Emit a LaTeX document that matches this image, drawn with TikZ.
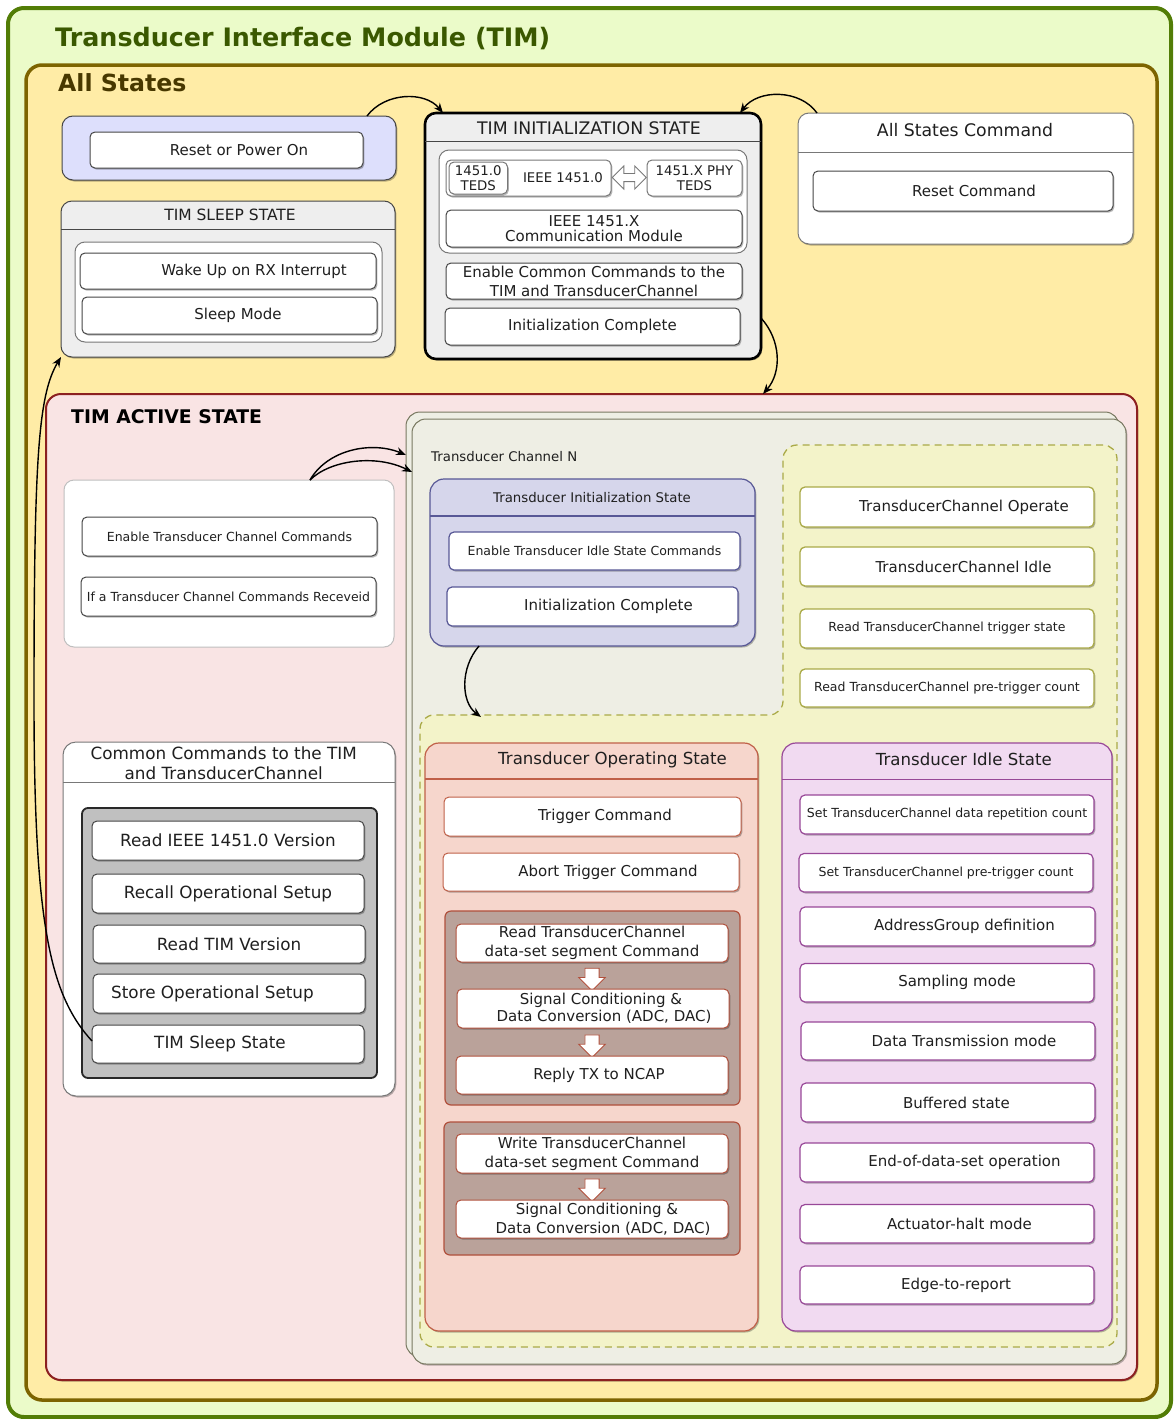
\documentclass[tikz,border=0pt]{standalone}
\usepackage{fontspec}
\setmainfont{DejaVu Sans}
\usetikzlibrary{arrows.meta,shapes.arrows,shadows}

\definecolor{timfill}{RGB}{235,251,201}
\definecolor{timline}{RGB}{82,125,6}
\definecolor{timtext}{RGB}{58,88,0}
\definecolor{allfill}{RGB}{255,236,166}
\definecolor{allline}{RGB}{125,100,0}
\definecolor{alltext}{RGB}{72,56,0}
\definecolor{resetfill}{RGB}{221,223,252}
\definecolor{statefill}{RGB}{238,238,238}
\definecolor{boxline}{RGB}{70,70,70}
\definecolor{softline}{RGB}{120,120,120}
\definecolor{actfill}{RGB}{249,228,228}
\definecolor{actline}{RGB}{140,32,32}
\definecolor{chfill}{RGB}{238,238,228}
\definecolor{chline}{RGB}{120,120,96}
\definecolor{dashfill}{RGB}{243,243,201}
\definecolor{dashline}{RGB}{170,170,72}
\definecolor{tinitfill}{RGB}{214,214,235}
\definecolor{tinitline}{RGB}{88,88,150}
\definecolor{opfill}{RGB}{246,214,204}
\definecolor{opline}{RGB}{192,96,72}
\definecolor{opgrp}{RGB}{186,162,154}
\definecolor{opgrpline}{RGB}{176,80,60}
\definecolor{idlefill}{RGB}{241,218,241}
\definecolor{idleline}{RGB}{152,72,152}
\definecolor{grpfill}{RGB}{192,192,192}
\definecolor{grpline}{RGB}{40,40,40}

\tikzset{
  % a rectangle node spanning the corners (x1,y1) (x2,y2)
  spanbox/.style args={(#1,#2) (#3,#4)}{
    at={({(#1+#3)/2},{(#2+#4)/2})},
    minimum width={(#3)-(#1)}, minimum height={(#4)-(#2)},
    inner sep=0pt, outer sep=0pt},
  dshadow/.style={drop shadow={shadow xshift=1.3pt, shadow yshift=-1.5pt, opacity=.28, fill=black}},
  fA/.style={font=\fontsize{15}{17.5}\selectfont},
  fS/.style={font=\fontsize{12.5}{15}\selectfont},
  fM/.style={font=\fontsize{13.3}{15.5}\selectfont},
  fH/.style={font=\fontsize{17.3}{20}\selectfont},
  fC/.style={font=\fontsize{16.8}{20}\selectfont},
  fO/.style={font=\fontsize{16.6}{20}\selectfont},
  heading/.style={anchor=base west, inner sep=0pt},
  container/.style={rounded corners=11pt, line width=1pt, dshadow},
  ibox/.style={draw=boxline, fill=white, rounded corners=5pt, line width=1pt, fA, align=center, dshadow},
  tibox/.style={ibox, draw=tinitline, line width=1.2pt},
  lbox/.style={ibox, draw=dashline, line width=1.3pt},
  obox/.style={ibox, draw=opline, line width=1pt},
  gbox/.style={ibox, draw=opgrpline, line width=1pt},
  vbox/.style={ibox, draw=idleline, line width=1.2pt},
  flow/.style={single arrow, shape border rotate=270, draw=opgrpline, fill=white,
    line width=0.9pt, minimum height=22.5pt, minimum width=25.5pt, inner sep=6.6pt,
    single arrow head extend=6.2pt},
  arr/.style={line width=1.4pt, -{Stealth[length=10pt,width=8pt]}},
}

\begin{document}
\begin{tikzpicture}[x=1pt,y=-1pt, every node/.append style={text=black!88}]
\useasboundingbox (0,0) rectangle (1174,1419);

% ---------- Transducer Interface Module ----------
\node[spanbox={(8,8) (1171,1417)}, draw=timline, fill=timfill, line width=4pt, rounded corners=16pt] (tim) {};
\node[heading, text=timtext, font=\fontsize{25.4}{30}\selectfont\bfseries] (timtitle) at (55,46.5) {Transducer Interface Module (TIM)};

% ---------- All States ----------
\node[spanbox={(26,65) (1157,1400)}, draw=allline, fill=allfill, line width=3.5pt, rounded corners=16pt, dshadow] (all) {};
\node[heading, text=alltext, font=\fontsize{23.6}{28}\selectfont\bfseries] (alltitle) at (58,91.5) {All States};

% Reset or power on
\node[spanbox={(62,116) (396,180)}, container, draw=boxline, fill=resetfill] (rpo) {};
\node[ibox, spanbox={(90,132) (363,168)}] (rpotext) {\hspace*{25pt}Reset or Power On};

% TIM initialization state
\node[spanbox={(425,113) (761,359)}, container, draw=black, line width=2.6pt, fill=statefill] (tinit) {};
\draw[boxline, line width=1pt] (425,141) -- (761,141);
\node[fH] (tinittitle) at (589,128) {TIM INITIALIZATION STATE};
\node[spanbox={(439,150) (747,253)}, draw=softline, fill=white, rounded corners=10pt, line width=1pt] (ieeegrp) {};
\node[ibox, draw=softline, fM, spanbox={(446,160) (611,196)}] (ieee0) {\hspace*{69pt}IEEE 1451.0};
\node[ibox, draw=softline, font=\fontsize{13.3}{14.5}\selectfont, spanbox={(449,162) (507.5,194)}] (teds0) {1451.0\\TEDS};
\node[double arrow, draw=softline, fill=white, line width=0.9pt, minimum height=34pt, inner sep=3.6pt,
      double arrow head extend=7.5pt] (dbl) at (629.3,177.5) {};
\node[ibox, draw=softline, font=\fontsize{13.3}{14.5}\selectfont, spanbox={(647,160) (742,196)}] (phy) {1451.X PHY\\TEDS};
\node[ibox, font=\fontsize{15}{15}\selectfont, spanbox={(446,210) (742,247)}] (comm) {IEEE 1451.X\\Communication Module};
\node[ibox, font=\fontsize{15}{19}\selectfont, spanbox={(446,263) (742,299)}] (encommon) {Enable Common Commands to the\\TIM and TransducerChannel};
\node[ibox, spanbox={(445,308) (740,345)}] (initdone) {Initialization Complete};

% All states command
\node[spanbox={(798,113) (1133,244)}, container, draw=softline, fill=white] (asc) {};
\draw[softline, line width=1pt] (798,152) -- (1133,152);
\node[fH] (asctitle) at (965,130) {All States Command};
\node[ibox, spanbox={(813,171) (1113,211)}] (resetcmd) {\hspace*{22pt}Reset Command};

% TIM sleep state
\node[spanbox={(61,201) (395,357)}, container, draw=boxline, fill=statefill] (sleep) {};
\draw[boxline, line width=1pt] (61,229) -- (395,229);
\node[font=\fontsize{15.5}{18}\selectfont] (sleeptitle) at (230,215) {TIM SLEEP STATE};
\node[spanbox={(75,242) (382,342)}, draw=softline, fill=white, rounded corners=10pt, line width=1pt] (sleepgrp) {};
\node[ibox, spanbox={(80,253) (376,289)}] (wake) {\hspace*{52pt}Wake Up on RX Interrupt};
\node[ibox, spanbox={(82,297) (377,334)}] (sleepmode) {\hspace*{17pt}Sleep Mode};

% ---------- TIM active state ----------
\node[spanbox={(46,394) (1137,1380)}, draw=actline, fill=actfill, line width=2pt, rounded corners=15pt, dshadow] (act) {};
\node[heading, font=\fontsize{18.8}{22}\selectfont\bfseries, text=black] (acttitle) at (71,423) {TIM ACTIVE STATE};

% transducer channel commands
\node[spanbox={(64,480) (394,647)}, draw=black!25, fill=white, rounded corners=10pt, line width=1pt] (tcw) {};
\node[ibox, fS, spanbox={(82,517) (377,556)}] (entc) {Enable Transducer Channel Commands};
\node[ibox, fS, spanbox={(81,577) (376,616)}] (iftc) {If a Transducer Channel Commands Receveid};

% common commands
\node[spanbox={(63,742) (395,1096)}, container, draw=softline, fill=white, rounded corners=13pt] (common) {};
\draw[softline, line width=1pt] (63,782) -- (395,782);
\node[fC, align=center] (commontitle) at (223.7,763) {Common Commands to the TIM\\and TransducerChannel};
\node[spanbox={(82,808) (377,1078)}, draw=grpline, fill=grpfill, line width=1.8pt, rounded corners=6pt] (cgrp) {};
\node[ibox, fC, spanbox={(92,821) (364,860)}] (rdieee) {Read IEEE 1451.0 Version};
\node[ibox, fC, spanbox={(92,874) (364,913)}] (recall) {Recall Operational Setup};
\node[ibox, fC, spanbox={(93,925) (365,963)}] (rdtim) {Read TIM Version};
\node[ibox, fC, spanbox={(93,974) (365,1013)}] (store) {Store Operational Setup\hspace*{33pt}};
\node[ibox, fC, spanbox={(92,1025) (364,1063)}] (tss) {TIM Sleep State\hspace*{16pt}};

% transducer channel stack
\node[spanbox={(406,412) (1119,1357)}, draw=chline, fill=chfill, line width=1pt, rounded corners=14pt, dshadow] (chback) {};
\node[spanbox={(412,419) (1126,1364)}, draw=chline, fill=chfill, line width=1pt, rounded corners=14pt, dshadow] (chfront) {};
\node[anchor=west, inner sep=0pt, fM] (chname) at (431,457) {Transducer Channel N};

% operating / idle region
\draw[dashline, fill=dashfill, line width=1.3pt, dash pattern=on 7pt off 5pt, rounded corners=14pt]
  (950,445) -- (1117,445) -- (1117,1347) -- (420,1347) -- (420,715) -- (783,715) -- (783,445) -- cycle;
\coordinate (opentry) at (481,717);

% transducer initialization state
\node[spanbox={(430,479) (755,646)}, container, draw=tinitline, line width=1.2pt, fill=tinitfill, rounded corners=14pt] (tdinit) {};
\draw[tinitline, line width=1.2pt] (430,516) -- (755,516);
\node[fM] (tdinittitle) at (592,498) {Transducer Initialization State};
\node[tibox, fS, spanbox={(449,532) (740,570)}] (enidle) {Enable Transducer Idle State Commands};
\node[tibox, spanbox={(447,587) (738,626)}] (tdinitdone) {\hspace*{32pt}Initialization Complete};

% channel command list
\node[lbox, spanbox={(800,487) (1094,527)}] (tcop) {\hspace*{34pt}TransducerChannel Operate};
\node[lbox, spanbox={(800,547) (1094,586)}] (tcidle) {\hspace*{33pt}TransducerChannel Idle};
\node[lbox, fS, spanbox={(800,609) (1094,648)}] (tctrig) {Read TransducerChannel trigger state};
\node[lbox, fS, spanbox={(800,669) (1094,707)}] (tcpre) {Read TransducerChannel pre-trigger count};

% transducer operating state
\node[spanbox={(425,743) (758,1331)}, container, draw=opline, line width=1.2pt, fill=opfill, rounded corners=14pt] (opst) {};
\draw[opline, line width=1.2pt] (425,779) -- (758,779);
\node[fO] (opsttitle) at (612.5,760) {Transducer Operating State};
\node[obox, spanbox={(444,797) (741,836)}] (trig) {\hspace*{25pt}Trigger Command};
\node[obox, spanbox={(443,853) (739,891)}] (abort) {\hspace*{34pt}Abort Trigger Command};

\node[spanbox={(445,911) (740,1105)}, draw=opgrpline, fill=opgrp, line width=1.2pt, rounded corners=6pt] (rdgrp) {};
\node[gbox, font=\fontsize{15}{19}\selectfont, spanbox={(456,924) (728,962)}] (rdseg) {Read TransducerChannel\\data-set segment Command};
\node[flow] (flowa) at (592,976) {};
\node[gbox, font=\fontsize{15}{16.5}\selectfont, spanbox={(457,989) (729,1028)}] (rdsig) {\hspace*{16pt}Signal Conditioning \&\\\hspace*{22pt}Data Conversion (ADC, DAC)};
\node[flow] (flowb) at (592,1042.7) {};
\node[gbox, spanbox={(456,1056) (728,1094)}] (reply) {\hspace*{14pt}Reply TX to NCAP};

\node[spanbox={(444,1122) (740,1255)}, draw=opgrpline, fill=opgrp, line width=1.2pt, rounded corners=6pt] (wrgrp) {};
\node[gbox, font=\fontsize{15}{19}\selectfont, spanbox={(456,1134) (728,1173)}] (wrseg) {Write TransducerChannel\\data-set segment Command};
\node[flow] (flowc) at (592,1186.7) {};
\node[gbox, font=\fontsize{15}{18.6}\selectfont, spanbox={(456,1200) (728,1238)}] (wrsig) {\hspace*{10pt}Signal Conditioning \&\\\hspace*{22pt}Data Conversion (ADC, DAC)};

% transducer idle state
\node[spanbox={(782,743) (1112,1331)}, container, draw=idleline, line width=1.2pt, fill=idlefill, rounded corners=14pt] (idle) {};
\draw[idleline, line width=1.2pt] (782,779.5) -- (1112,779.5);
\node[fO] (idletitle) at (963.8,759.5) {Transducer Idle State};
\node[vbox, fS, spanbox={(800,795) (1094,834)}] (rep) {Set TransducerChannel data repetition count};
\node[vbox, fS, spanbox={(799,853.5) (1093,892)}] (pretrig) {Set TransducerChannel pre-trigger count};
\node[vbox, spanbox={(800,907) (1095,946)}] (addr) {\hspace*{34pt}AddressGroup definition};
\node[vbox, spanbox={(800,963.5) (1094,1002)}] (sampling) {\hspace*{20pt}Sampling mode};
\node[vbox, spanbox={(801,1022) (1095,1060)}] (datatx) {\hspace*{32pt}Data Transmission mode};
\node[vbox, spanbox={(801,1083) (1095,1122)}] (buffered) {\hspace*{17pt}Buffered state};
\node[vbox, spanbox={(800,1143) (1094,1182)}] (eods) {\hspace*{35pt}End-of-data-set operation};
\node[vbox, spanbox={(800,1204.5) (1094,1243)}] (halt) {\hspace*{25pt}Actuator-halt mode};
\node[vbox, spanbox={(800,1266) (1094,1304)}] (edge) {\hspace*{18pt}Edge-to-report};

% ---------- transitions ----------
\draw[arr] ([xshift=-29pt]rpo.north east) .. controls (385,92) and (425,91) .. ([xshift=18pt]tinit.north west);
\draw[arr] ([xshift=19pt]asc.north west) .. controls (800,89) and (758,89) .. ([xshift=-21pt]tinit.north east);
\draw[arr] ([yshift=-82pt]tinit.east) .. controls (781,340) and (782,372) .. ([xshift=-374pt]act.north east);
\draw[arr] ([yshift=3pt]tss.west) .. controls (50,995) and (34,925) .. (34,700)
  .. controls (34,460) and (38,395) .. (sleep.south west);
\draw[arr] ([xshift=81pt]tcw.north) .. controls (328,449) and (372,441) .. ([yshift=-43pt]chback.north west);
\draw[arr] ([xshift=81pt]tcw.north) .. controls (330,460) and (376,454) .. ([yshift=-53pt]chfront.north west);
\draw[arr] ([xshift=-113.5pt]tdinit.south) .. controls (460,668) and (461,702) .. (opentry);

\end{tikzpicture}
\end{document}
